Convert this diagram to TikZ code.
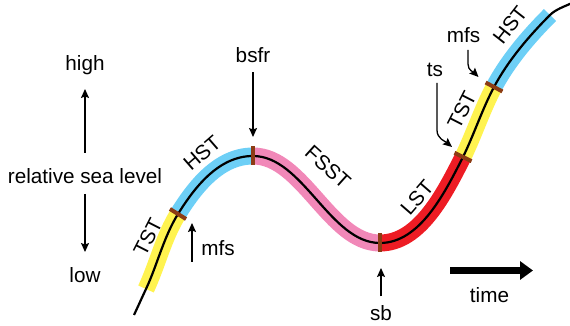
\documentclass[tikz,border=0pt]{standalone}
\usepackage{fontspec}
\setmainfont{Liberation Sans}
\usetikzlibrary{arrows.meta}

\definecolor{tstyellow}{RGB}{255,243,80}
\definecolor{hstblue}{RGB}{109,207,246}
\definecolor{fsstpink}{RGB}{241,136,184}
\definecolor{lstred}{RGB}{237,28,36}
\definecolor{surfbrown}{RGB}{140,60,20}

\begin{document}
\begin{tikzpicture}[x=1pt,y=1pt,
  lbl/.style={font=\fontsize{20.7}{24}\selectfont, inner sep=0pt},
  band/.style={line width=17pt, line cap=butt},
  curve/.style={line width=2.2pt, line cap=butt},
  surface/.style={rectangle, fill=surfbrown, minimum width=4pt, minimum height=19pt, inner sep=0pt, sloped},
  pointer/.style={line width=1.3pt, -{Stealth[length=9pt,width=8pt,inset=1.5pt]}},
  timearrow/.style={line width=6.5pt, -{Triangle[length=13pt,width=18pt]}}
]
\useasboundingbox (0,0) rectangle (570,326);

% points along the sea-level curve
\coordinate (P0) at (134,11);
\coordinate (P1) at (146,37);
\coordinate (P2) at (178,112);
\coordinate (P3) at (253,170);
\coordinate (P4) at (380,83);
\coordinate (P5) at (463,169);
\coordinate (P6) at (494,239);
\coordinate (P7) at (550,311);
\coordinate (P8) at (572,323);

% systems tracts as coloured bands
\draw[band, tstyellow] (P1) .. controls +(65:27) and +(238:27) .. (P2);
\draw[band, hstblue]   (P2) .. controls +(58:30) and +(180:35) .. (P3);
\draw[band, fsstpink]  (P3) .. controls +(0:50) and +(180:50) .. (P4);
\draw[band, lstred]    (P4) .. controls +(0:40) and +(243:40) .. (P5);
\draw[band, tstyellow] (P5) .. controls +(64:25) and +(242:25) .. (P6);
\draw[band, hstblue]   (P6) .. controls +(62:30) and +(225:30) .. (P7);

% relative sea level curve
\draw[curve] (P0) .. controls +(65:9) and +(245:9) .. (P1)
                  .. controls +(65:27) and +(238:27) .. (P2)
                  .. controls +(58:30) and +(180:35) .. (P3)
                  .. controls +(0:50) and +(180:50) .. (P4)
                  .. controls +(0:40) and +(243:40) .. (P5)
                  .. controls +(64:25) and +(242:25) .. (P6)
                  .. controls +(62:30) and +(225:30) .. (P7)
                  .. controls +(45:8) and +(205:8) .. (P8);

% sequence-stratigraphic surfaces
\path (P2) .. controls +(58:30) and +(180:35) .. (P3) node[surface, pos=0] (s1) {};
\path (P3) .. controls +(0:50) and +(180:50) .. (P4) node[surface, pos=0] (s2) {};
\path (P4) .. controls +(0:40) and +(243:40) .. (P5) node[surface, pos=0] (s3) {};
\path (P5) .. controls +(64:25) and +(242:25) .. (P6) node[surface, pos=0] (s4) {};
\path (P6) .. controls +(62:30) and +(225:30) .. (P7) node[surface, pos=0] (s5) {};

% tract labels
\node[lbl, rotate=63] (tst1) at (148,89) {TST};
\node[lbl, rotate=41] (hst1) at (202,173) {HST};
\node[lbl, rotate=-42] (fsst) at (328,159) {FSST};
\node[lbl, rotate=49] (lst) at (417,128) {LST};
\node[lbl, rotate=63] (tst2) at (462,216) {TST};
\node[lbl, rotate=52] (hst2) at (510,301) {HST};

% vertical axis
\node[lbl] (high) at (85,261) {high};
\node[lbl] (rsl) at (85,149.5) {relative sea level};
\node[lbl] (low) at (85,51) {low};
\coordinate (upA) at (85,173);
\coordinate (upB) at (85,237);
\coordinate (dnA) at (85,132);
\coordinate (dnB) at (85,74);
\draw[pointer] (upA) -- (upB);
\draw[pointer] (dnA) -- (dnB);

% surface labels and pointers
\node[lbl] (mfs1) at (218,77.5) {mfs};
\coordinate (m1A) at (192,64);
\coordinate (m1B) at (192,103);
\draw[pointer] (m1A) -- (m1B);

\node[lbl] (bsfr) at (253,271) {bsfr};
\coordinate (bA) at (253,253.5);
\coordinate (bB) at (253,189);
\draw[pointer] (bA) -- (bB);

\node[lbl] (sb) at (381,13) {sb};
\coordinate (sbA) at (381,29.5);
\coordinate (sbB) at (381,58);
\draw[pointer] (sbA) -- (sbB);

\node[lbl] (ts) at (435,256) {ts};
\coordinate (tsA) at (437,243);
\coordinate (tsK) at (437,196);
\coordinate (tsB) at (452,179);
\draw[pointer] (tsA) -- (tsK) to[out=-90, in=140] (tsB);

\node[lbl] (mfs2) at (463.5,291) {mfs};
\coordinate (m2A) at (468,276);
\coordinate (m2K) at (468,262);
\coordinate (m2B) at (478.5,249);
\draw[pointer] (m2A) -- (m2K) to[out=-90, in=135] (m2B);

% time axis
\coordinate (tA) at (450,55.5);
\coordinate (tB) at (533,55.5);
\draw[timearrow] (tA) -- (tB);
\node[lbl] (time) at (489.5,31) {time};
\end{tikzpicture}
\end{document}
